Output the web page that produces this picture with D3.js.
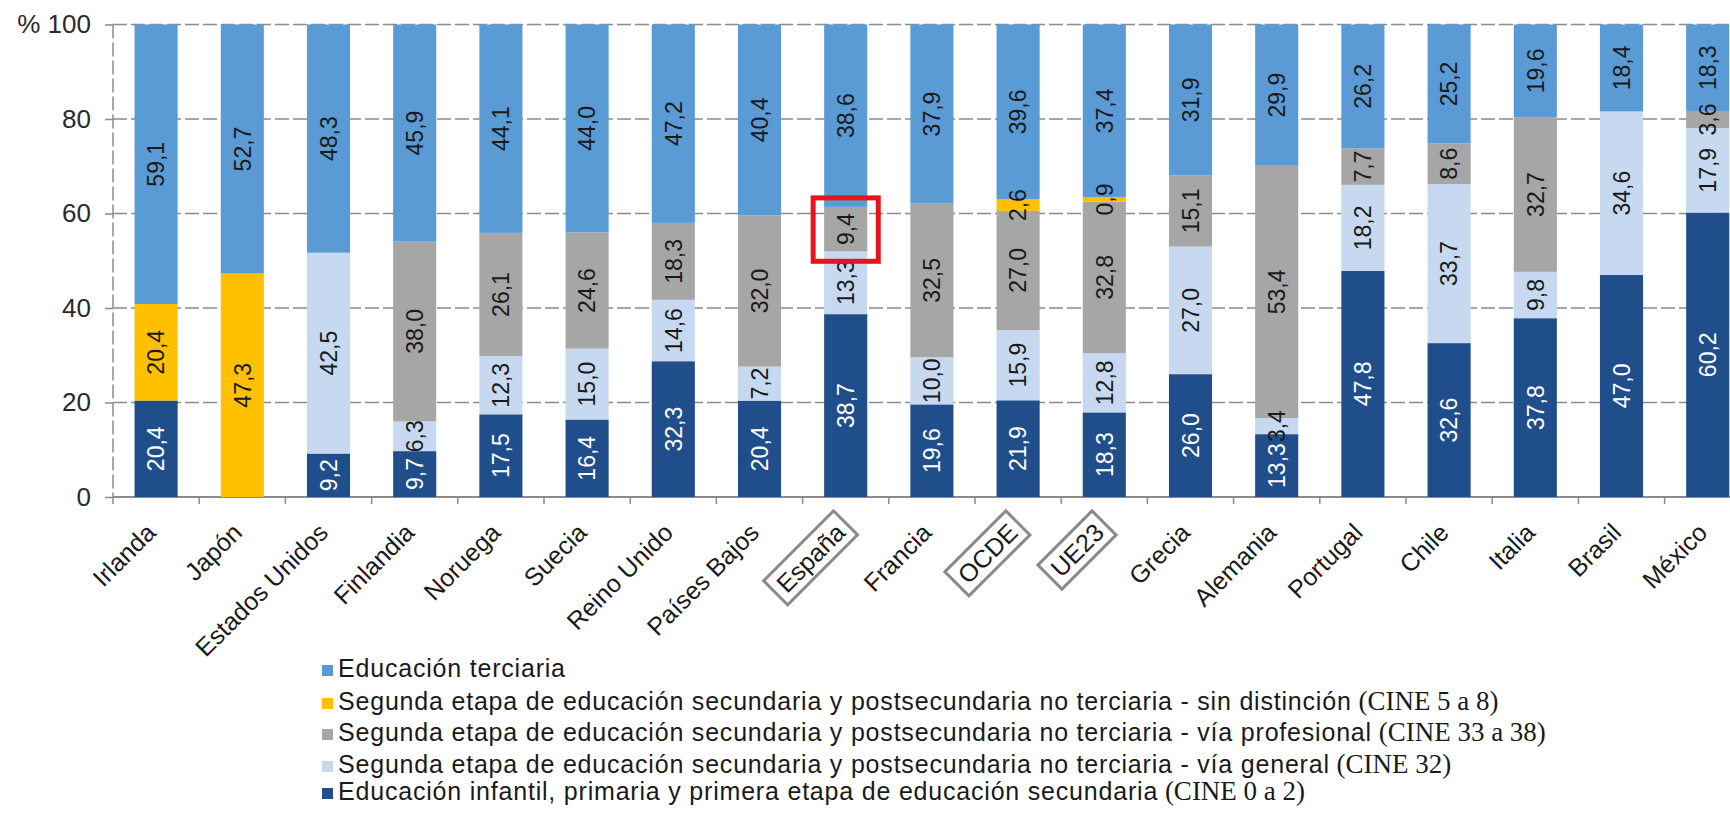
<!DOCTYPE html>
<html>
<head>
<meta charset="utf-8">
<script src="https://cdn.jsdelivr.net/npm/d3@7"></script>
<style>
    body { margin: 0; background: #fff; overflow: hidden; }
    svg { display: block; }
</style>
</head>
<body>
<svg id="chart" width="1730" height="836"></svg>
<script>
// vim: set expandtab shiftwidth=4 softtabstop=4:

var countries = ["Irlanda", "Japón", "Estados Unidos", "Finlandia", "Noruega", "Suecia",
                 "Reino Unido", "Países Bajos", "España", "Francia", "OCDE", "UE23",
                 "Grecia", "Alemania", "Portugal", "Chile", "Italia", "Brasil", "México"];
var boxed = ["España", "OCDE", "UE23"];

// values per level, bottom to top of each bar
var infantil      = [20.4, 0, 9.2, 9.7, 17.5, 16.4, 32.3, 20.4, 38.7, 19.6, 21.9, 18.3, 26.0, 13.3, 47.8, 32.6, 37.8, 47.0, 60.2];
var general       = [0, 0, 42.5, 6.3, 12.3, 15.0, 14.6, 7.2, 13.3, 10.0, 15.9, 12.8, 27.0, 3.4, 18.2, 33.7, 9.8, 34.6, 17.9];
var profesional   = [0, 0, 0, 38.0, 26.1, 24.6, 18.3, 32.0, 9.4, 32.5, 27.0, 32.8, 15.1, 53.4, 7.7, 8.6, 32.7, 0, 3.6];
var sinDistincion = [20.4, 47.3, 0, 0, 0, 0, 0, 0, 0, 0, 2.6, 0.9, 0, 0, 0, 0, 0, 0, 0];
var terciaria     = [59.1, 52.7, 48.3, 45.9, 44.1, 44.0, 47.2, 40.4, 38.6, 37.9, 39.6, 37.4, 31.9, 29.9, 26.2, 25.2, 19.6, 18.4, 18.3];

var yTicks = [0, 20, 40, 60, 80, 100];

var series = [
    { key: "infantil", values: infantil, color: "#1f4e8a", text: "#fff",
      label: "Educación infantil, primaria y primera etapa de educación secundaria", cine: "(CINE 0 a 2)" },
    { key: "general", values: general, color: "#c6d9f0", text: "#1a1a1a",
      label: "Segunda etapa de educación secundaria y postsecundaria no terciaria - vía general", cine: "(CINE 32)" },
    { key: "profesional", values: profesional, color: "#a6a6a6", text: "#1a1a1a",
      label: "Segunda etapa de educación secundaria y postsecundaria no terciaria - vía profesional", cine: "(CINE 33 a 38)" },
    { key: "sinDistincion", values: sinDistincion, color: "#ffc000", text: "#1a1a1a",
      label: "Segunda etapa de educación secundaria y postsecundaria no terciaria - sin distinción", cine: "(CINE 5 a 8)" },
    { key: "terciaria", values: terciaria, color: "#5b9bd5", text: "#1a1a1a",
      label: "Educación terciaria", cine: "" }
];

var rows = countries.map(function(c, i) {
    var r = { country: c };
    series.forEach(function(s) { r[s.key] = s.values[i]; });
    return r;
});

var svg = d3.select("#chart");
var sans = "'Liberation Sans', Arial, sans-serif";
var serif = "'Liberation Serif', 'Times New Roman', serif";

var plotLeft = 113, step = 86.2, plotBottom = 497, plotTop = 24.5;

var x = d3.scaleBand()
    .domain(countries)
    .range([plotLeft, plotLeft + step * countries.length])
    .paddingInner(0.5)
    .paddingOuter(0.25);
var y = d3.scaleLinear().domain([0, 100]).range([plotBottom, plotTop]);

// bars are shown as share of each country's total
var stacked = d3.stack()
    .keys(series.map(function(s) { return s.key; }))
    .offset(d3.stackOffsetExpand)(rows);

//
// grid and axes
//
svg.append("g")
    .selectAll("line")
    .data(yTicks.filter(function(t) { return t > 0; }))
    .join("line")
    .attr("x1", plotLeft).attr("x2", 1730)
    .attr("y1", function(d) { return y(d); })
    .attr("y2", function(d) { return y(d); })
    .attr("stroke", "#8c8c8c")
    .attr("stroke-width", 1.5)
    .attr("stroke-dasharray", "14,4");

svg.append("line")
    .attr("x1", plotLeft).attr("x2", plotLeft)
    .attr("y1", plotTop).attr("y2", plotBottom)
    .attr("stroke", "#8c8c8c")
    .attr("stroke-width", 1.5)
    .attr("stroke-dasharray", "14,4");

var yAxis = svg.append("g")
    .attr("transform", "translate(" + plotLeft + ",0)")
    .call(d3.axisLeft(y).tickValues(yTicks).tickSize(8).tickPadding(14)
          .tickFormat(function(d) { return d === 100 ? "% 100" : d; }));
yAxis.select(".domain").remove();
yAxis.selectAll(".tick line").attr("stroke", "#8c8c8c").attr("stroke-width", 1.5);
yAxis.selectAll(".tick text")
    .attr("fill", "#2a2a2a")
    .style("font-family", sans)
    .style("font-size", "26px");

var bounds = d3.range(countries.length + 1).map(function(k) { return plotLeft + k * step; });
svg.append("line")
    .attr("x1", plotLeft).attr("x2", 1730)
    .attr("y1", plotBottom).attr("y2", plotBottom)
    .attr("stroke", "#8c8c8c").attr("stroke-width", 2);
svg.append("g")
    .selectAll("line")
    .data(bounds)
    .join("line")
    .attr("x1", function(d) { return d; }).attr("x2", function(d) { return d; })
    .attr("y1", plotBottom).attr("y2", plotBottom + 7)
    .attr("stroke", "#8c8c8c").attr("stroke-width", 1.5);

//
// bars and value labels
//
var layers = svg.append("g")
    .selectAll("g")
    .data(stacked)
    .join("g")
    .attr("fill", function(d, i) { return series[i].color; });

layers.selectAll("rect")
    .data(function(d) { return d; })
    .join("rect")
    .attr("x", function(d) { return x(d.data.country); })
    .attr("width", x.bandwidth())
    .attr("y", function(d) { return y(d[1] * 100); })
    .attr("height", function(d) { return y(d[0] * 100) - y(d[1] * 100); });

var fmt = function(v) { return d3.format(".1f")(v).replace(".", ","); };

stacked.forEach(function(layer, i) {
    var s = series[i];
    svg.append("g")
        .selectAll("text")
        .data(layer.filter(function(d) { return d.data[s.key] > 0; }))
        .join("text")
        .attr("transform", function(d) {
            var cx = x(d.data.country) + x.bandwidth() / 2;
            var cy = y((d[0] + d[1]) / 2 * 100);
            return "translate(" + cx + "," + cy + ") rotate(-90)";
        })
        .attr("text-anchor", "middle")
        .attr("dy", "0.36em")
        .attr("fill", s.text)
        .style("font-family", sans)
        .style("font-size", "23px")
        .text(function(d) { return fmt(d.data[s.key]); });
});

// red highlight round Spain's vocational share
var esp = stacked[2][countries.indexOf("España")];
svg.append("rect")
    .attr("x", x("España") - 11)
    .attr("width", x.bandwidth() + 22)
    .attr("y", y(esp[1] * 100) - 9)
    .attr("height", y(esp[0] * 100) - y(esp[1] * 100) + 19)
    .attr("fill", "none")
    .attr("stroke", "#e8141c")
    .attr("stroke-width", 5);

//
// country labels
//
var xlab = svg.append("g")
    .selectAll("g")
    .data(countries)
    .join("g")
    .attr("transform", function(d) {
        return "translate(" + (x(d) + x.bandwidth() / 2 - 5) + "," + (plotBottom + 31) + ") rotate(-45)";
    });
xlab.append("text")
    .attr("text-anchor", "end")
    .attr("dy", "0.35em")
    .attr("fill", "#1a1a1a")
    .style("font-family", sans)
    .style("font-size", "25px")
    .text(function(d) { return d; });
xlab.filter(function(d) { return boxed.indexOf(d) >= 0; })
    .each(function() {
        var g = d3.select(this);
        var bb = g.select("text").node().getBBox();
        g.insert("rect", "text")
            .attr("x", bb.x - 7).attr("y", bb.y - 3)
            .attr("width", bb.width + 14).attr("height", bb.height + 6)
            .attr("fill", "none")
            .attr("stroke", "#8a8a8a")
            .attr("stroke-width", 3);
    });

//
// legend
//
var legendRows = series.slice().reverse();
var legend = svg.append("g")
    .selectAll("g")
    .data(legendRows)
    .join("g")
    .attr("transform", function(d, i) { return "translate(322," + [671, 704, 735, 767, 794][i] + ")"; });
legend.append("rect")
    .attr("x", 0).attr("y", -6)
    .attr("width", 11).attr("height", 11)
    .attr("fill", function(d) { return d.color; });
var lt = legend.append("text")
    .attr("x", 16)
    .attr("dy", "0.36em")
    .attr("fill", "#1a1a1a");
lt.append("tspan")
    .style("font-family", sans)
    .style("font-size", "25px")
    .style("letter-spacing", "0.8px")
    .text(function(d) { return d.label; });
lt.append("tspan")
    .style("font-family", serif)
    .style("font-size", "27px")
    .text(function(d) { return d.cine ? " " + d.cine : ""; });
</script>
</body>
</html>
